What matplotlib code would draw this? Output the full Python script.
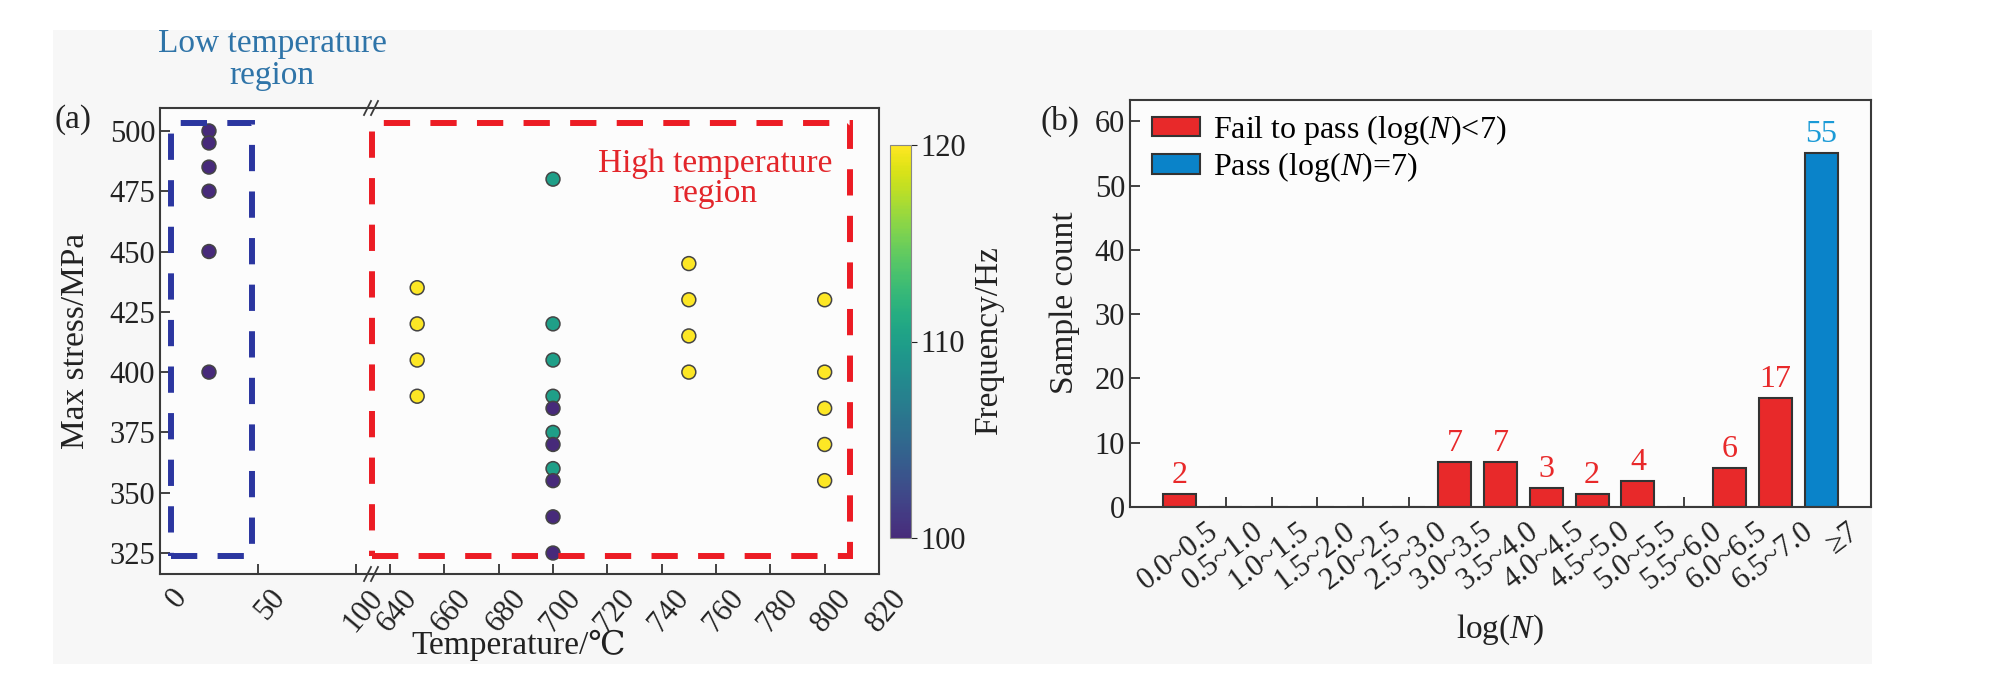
import numpy as np
import matplotlib
matplotlib.use("Agg")
import matplotlib.pyplot as plt
import matplotlib.transforms as mtransforms
from matplotlib.colors import ListedColormap, Normalize
from matplotlib.patches import Rectangle
from matplotlib.lines import Line2D

plt.rcParams['font.family'] = ['Liberation Serif', 'DejaVu Serif', 'Noto Sans CJK SC']
plt.rcParams['mathtext.fontset'] = 'custom'
plt.rcParams['mathtext.rm'] = 'Liberation Serif'
plt.rcParams['mathtext.it'] = 'Liberation Serif:italic'

# ---- data, panel (a) ----
low_temp = [25, 25, 25, 25, 25, 25]
low_stress = [500, 495, 485, 475, 450, 400]
low_freq = [100, 100, 100, 100, 100, 100]

high_temp = [650, 650, 650, 650,
             700, 700, 700, 700, 700, 700,
             700, 700, 700, 700, 700,
             750, 750, 750, 750,
             800, 800, 800, 800, 800]
high_stress = [435, 420, 405, 390,
               480, 420, 405, 390, 375, 360,
               385, 370, 355, 340, 325,
               445, 430, 415, 400,
               430, 400, 385, 370, 355]
high_freq = [120, 120, 120, 120,
             110, 110, 110, 110, 110, 110,
             100, 100, 100, 100, 100,
             120, 120, 120, 120,
             120, 120, 120, 120, 120]

# ---- data, panel (b) ----
bins = ["0.0~0.5", "0.5~1.0", "1.0~1.5", "1.5~2.0", "2.0~2.5", "2.5~3.0",
        "3.0~3.5", "3.5~4.0", "4.0~4.5", "4.5~5.0", "5.0~5.5", "5.5~6.0",
        "6.0~6.5", "6.5~7.0", "≥7"]
fail_counts = [2, 0, 0, 0, 0, 0, 7, 7, 3, 2, 4, 0, 6, 17]
pass_counts = [55]

W, H = 1993, 679


def box(x0, y0, x1, y1):
    return [x0 / W, 1 - y1 / H, (x1 - x0) / W, (y1 - y0) / H]


def fx(x):
    return x / W


def fy(y):
    return 1 - y / H


fig = plt.figure(figsize=(W / 100, H / 100), dpi=100, facecolor='white')
fig.add_artist(Rectangle((fx(53), fy(664)), (1872 - 53) / W, (664 - 30) / H,
                         transform=fig.transFigure, facecolor='#f7f7f7',
                         edgecolor='none', zorder=-10))

spine_c = '#3a3a3a'
tick_c = '#222222'
red = '#e8292a'
blue = '#0a83c9'
TS = 22   # tick labels
LS = 24   # axis labels

ax1 = fig.add_axes(box(160, 108, 371, 574))
ax2 = fig.add_axes(box(371, 108, 879, 574), sharey=ax1)
cax = fig.add_axes(box(890, 145, 911, 538))
axb = fig.add_axes(box(1130, 100, 1871, 507))

for a in (ax1, ax2, axb):
    a.set_facecolor('#fcfcfc')
    for s in a.spines.values():
        s.set_color(spine_c)
        s.set_linewidth(1.5)

cmap = ListedColormap(plt.cm.viridis(np.linspace(0.12, 1, 256)))
norm = Normalize(100, 120)

ax1.scatter(low_temp, low_stress, c=low_freq, cmap=cmap, norm=norm, s=100,
            edgecolors='#444444', linewidths=1.1, zorder=3)
sc = ax2.scatter(high_temp, high_stress, c=high_freq, cmap=cmap, norm=norm, s=100,
                 edgecolors='#444444', linewidths=1.1, zorder=3)

ax1.set_xlim(0, 107.7)
ax2.set_xlim(633, 820)
ax1.set_ylim(316.3, 509.5)
ax1.set_xticks([0, 50, 100])
ax2.set_xticks(np.arange(640, 821, 20))
ax1.set_yticks(np.arange(325, 501, 25))

ax1.spines['right'].set_visible(False)
ax2.spines['left'].set_visible(False)
ax1.tick_params(direction='in', length=7, width=1.2, labelsize=TS, colors=tick_c,
                top=False, right=False)
ax1.tick_params(axis='x', pad=7)
ax2.tick_params(direction='in', length=7, width=1.2, labelsize=TS, colors=tick_c,
                top=False, right=False, left=False, labelleft=False)
ax2.tick_params(axis='x', pad=7)

off_a = mtransforms.ScaledTranslation(11 / 100, 0, fig.dpi_scale_trans)
for a in (ax1, ax2):
    for lab in a.get_xticklabels():
        lab.set_rotation(50)
        lab.set_ha('right')
        lab.set_va('top')
        lab.set_rotation_mode('anchor')
        lab.set_transform(lab.get_transform() + off_a)

# dashed region boxes
ax1.add_patch(Rectangle((5.6, 323.6), 41.3, 179.7, fill=False, edgecolor='#2b36a0',
                        lw=4.3, linestyle=(0, (4.4, 3.4)), zorder=5, clip_on=False))
ax2.add_patch(Rectangle((633.5, 323.6), 175.8, 179.7, fill=False, edgecolor='#ec1c24',
                        lw=4.3, linestyle=(0, (4.4, 3.4)), zorder=5, clip_on=False))

# axis break marks
for yb in (108, 574):
    for xb in (364, 371):
        fig.add_artist(Line2D([fx(xb), fx(xb + 7)], [fy(yb + 7), fy(yb - 7)],
                              transform=fig.transFigure, color=spine_c, lw=1.3))

fig.text(fx(272), fy(60), "Low temperature\nregion", ha='center', va='center',
         fontsize=LS, color='#2f74a8', linespacing=1.05)
fig.text(fx(715), fy(179), "High temperature\nregion", ha='center', va='center',
         fontsize=LS, color='#e3262b', linespacing=1.0)
fig.text(fx(73), fy(120), "(a)", ha='center', va='center', fontsize=LS, color=tick_c)
fig.text(fx(76), fy(341), "Max stress/MPa", ha='center', va='center', rotation=90,
         fontsize=LS, color=tick_c)
fig.text(fx(519), fy(645), "Temperature/℃", ha='center', va='center',
         fontsize=LS, color=tick_c)

cb = fig.colorbar(sc, cax=cax, ticks=[100, 110, 120])
cb.outline.set_edgecolor('#888888')
cb.outline.set_linewidth(0.8)
cax.tick_params(labelsize=TS, length=4, width=0.8, colors=tick_c, pad=3)
fig.text(fx(989), fy(341), "Frequency/Hz", ha='center', va='center', rotation=90,
         fontsize=LS, color=tick_c)

# ---- panel (b) ----
xpos = np.arange(len(bins))
b1 = axb.bar(xpos[:len(fail_counts)], fail_counts, width=0.72, color=red,
             edgecolor='#333333', linewidth=1.5, label='Fail to pass (log($N$)<7)', zorder=2)
b2 = axb.bar(xpos[len(fail_counts):], pass_counts, width=0.72, color=blue,
             edgecolor='#333333', linewidth=1.5, label='Pass (log($N$)=7)', zorder=2)
axb.bar_label(b1, labels=['' if v == 0 else str(v) for v in fail_counts],
              padding=3, fontsize=23, color=red)
axb.bar_label(b2, labels=[str(v) for v in pass_counts], padding=3, fontsize=23,
              color='#1a9ad6')

axb.set_xlim(-1.09, 15.09)
axb.set_ylim(0, 63.3)
axb.set_yticks(np.arange(0, 61, 10))
axb.set_xticks(xpos)
axb.set_xticklabels(bins)
axb.tick_params(direction='in', length=7, width=1.2, labelsize=TS, colors=tick_c,
                top=False, right=False)
axb.tick_params(axis='x', pad=7)
off_b = mtransforms.ScaledTranslation(26 / 100, 0, fig.dpi_scale_trans)
for lab in axb.get_xticklabels():
    lab.set_rotation(37)
    lab.set_ha('right')
    lab.set_va('top')
    lab.set_rotation_mode('anchor')
    lab.set_transform(lab.get_transform() + off_b)

axb.legend(loc='upper left', bbox_to_anchor=(0.0297, 0.968), frameon=False,
           fontsize=23, handlelength=1.5, handleheight=0.55, handletextpad=0.4,
           labelspacing=0.1, borderpad=0, borderaxespad=0)

fig.text(fx(1060), fy(121), "(b)", ha='center', va='center', fontsize=LS, color=tick_c)
fig.text(fx(1065), fy(303), "Sample count", ha='center', va='center', rotation=90,
         fontsize=LS, color=tick_c)
fig.text(fx(1500), fy(630), "log($N$)", ha='center', va='center', fontsize=LS,
         color=tick_c)

fig.savefig("out.png", dpi=100, facecolor=fig.get_facecolor())
